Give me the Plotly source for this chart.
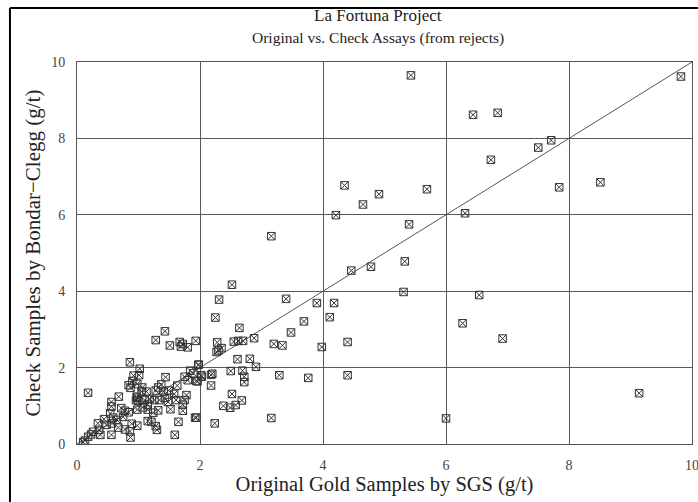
import plotly.graph_objects as go

# Original gold assays by SGS (g/t) and the matching check assays by Bondar-Clegg (g/t)
orig_sgs = [
    5.43, 6.44, 6.84, 6.73, 4.35, 4.91, 5.69, 4.65, 4.21, 6.31, 5.40, 5.33, 4.78, 4.46,
    5.31, 6.54, 4.18, 4.11, 6.27, 6.92, 4.40, 3.98, 4.40, 6.00,
    9.82, 7.71, 7.50, 7.84, 8.51, 9.14,
    3.16, 2.52, 2.31, 3.40, 3.90, 2.25, 3.69, 2.64, 3.48, 2.88, 2.62, 2.55, 2.70, 2.28,
    1.93, 3.20, 3.34, 2.35, 2.27, 2.30, 2.61, 2.81, 2.91, 1.97, 2.02, 2.18, 2.20, 2.50,
    2.69, 2.72, 2.72, 3.29, 3.76, 1.94, 2.18, 2.52, 2.68, 2.38, 2.49, 2.58, 3.16, 1.94,
    2.24,
    1.43, 1.28, 1.51, 1.67, 1.72, 1.80, 1.69, 0.86, 1.02, 1.01, 0.92, 1.98, 0.18, 1.44,
    1.75, 2.03, 1.96, 1.80, 0.84, 0.87, 0.68, 0.56, 0.98, 0.96, 1.00, 1.10, 1.18, 1.26,
    1.34, 1.07, 0.98, 1.15, 1.43, 1.48, 1.58, 1.78, 1.75, 1.52, 1.72, 1.92, 1.65, 1.59,
    1.30, 1.28, 1.21, 1.15, 0.87, 0.86, 0.78, 0.56, 0.57, 0.59, 0.65, 0.75, 0.54, 0.44,
    0.48, 0.36, 0.26, 0.18, 0.13, 0.10, 0.23, 0.56, 0.72, 0.78, 0.34, 1.13, 1.28, 1.41,
    1.49, 1.61, 1.72, 0.84, 0.89, 0.98, 1.15, 1.05, 0.97, 0.90, 0.98, 1.06, 1.32, 1.37,
    1.63, 1.89, 1.84, 1.32, 1.24, 0.67, 0.38,
]
check_bc = [
    9.65, 8.62, 8.67, 7.44, 6.77, 6.54, 6.67, 6.27, 5.99, 6.04, 5.75, 4.78, 4.64, 4.54,
    3.98, 3.90, 3.69, 3.32, 3.16, 2.76, 2.67, 2.54, 1.80, 0.67,
    9.62, 7.95, 7.76, 6.72, 6.85, 1.33,
    5.44, 4.17, 3.78, 3.80, 3.69, 3.31, 3.21, 3.04, 2.92, 2.77, 2.70, 2.68, 2.70, 2.66,
    2.70, 2.62, 2.58, 2.51, 2.41, 2.45, 2.22, 2.23, 2.02, 2.07, 1.80, 1.81, 1.84, 1.91,
    1.92, 1.76, 1.62, 1.80, 1.73, 1.65, 1.53, 1.31, 1.14, 1.00, 0.95, 1.02, 0.68, 0.69,
    0.54,
    2.95, 2.72, 2.58, 2.67, 2.62, 2.53, 2.55, 2.14, 1.97, 1.80, 1.79, 2.08, 1.34, 1.75,
    1.76, 1.76, 1.64, 1.67, 1.54, 1.47, 1.24, 1.10, 1.21, 1.15, 1.13, 1.15, 1.18, 1.15,
    1.15, 0.96, 0.90, 0.90, 1.21, 1.10, 1.31, 1.28, 1.15, 0.91, 0.87, 0.69, 0.58, 0.24,
    0.37, 0.47, 0.58, 0.60, 0.17, 0.33, 0.38, 0.24, 0.54, 0.69, 0.63, 0.71, 0.80, 0.65,
    0.50, 0.37, 0.32, 0.19, 0.09, 0.05, 0.25, 0.98, 0.94, 0.87, 0.54, 1.37, 1.40, 1.37,
    1.40, 1.15, 1.03, 0.83, 0.53, 0.48, 1.03, 1.37, 1.24, 1.65, 1.57, 1.48, 1.48, 1.56,
    1.53, 1.85, 1.92, 0.88, 0.82, 0.43, 0.24,
]

# 1:1 reference line
ref_line = [0, 10]
axis_ticks = [0, 2, 4, 6, 8, 10]

title_lines = ["La Fortuna Project", "Original vs. Check Assays (from rejects)"]

SERIF = "Liberation Serif, Times New Roman, serif"

fig = go.Figure()
fig.add_trace(go.Scatter(
    x=ref_line, y=ref_line, mode="lines",
    line=dict(color="#555555", width=1), hoverinfo="skip", showlegend=False,
))
fig.add_trace(go.Scatter(
    x=orig_sgs, y=check_bc, mode="markers",
    marker=dict(symbol="square-x-open", size=7.5, color="#333333",
                line=dict(width=1, color="#333333")),
    showlegend=False,
))

axis_common = dict(
    range=[0, 10], tickvals=axis_ticks, ticks="",
    showgrid=True, gridcolor="#5a5a5a", gridwidth=1,
    showline=True, linecolor="#555555", linewidth=1, mirror=True,
    zeroline=False, ticklabelstandoff=8, ticklabeloverflow="allow",
    automargin=False,
    tickfont=dict(family=SERIF, size=14, color="#444444"),
)

fig.update_layout(
    width=698, height=502,
    margin=dict(l=77, r=6, t=62, b=58, autoexpand=False),
    paper_bgcolor="white", plot_bgcolor="white",
    xaxis=dict(axis_common, title=dict(
        text="Original Gold Samples by SGS (g/t)", standoff=2,
        font=dict(family=SERIF, size=20.5, color="#222222"))),
    yaxis=dict(axis_common, title=dict(
        text="Check Samples by Bondar\u2212Clegg (g/t)", standoff=4,
        font=dict(family=SERIF, size=21, color="#222222"))),
    annotations=[
        dict(text=title_lines[0], xref="paper", yref="paper",
             x=0.4894, y=1.123, xanchor="center", yanchor="middle", showarrow=False,
             font=dict(family=SERIF, size=17, color="#222222")),
        dict(text=title_lines[1], xref="paper", yref="paper",
             x=0.4894, y=1.0628, xanchor="center", yanchor="middle", showarrow=False,
             font=dict(family=SERIF, size=15.5, color="#222222")),
    ],
    shapes=[
        # frame around the figure (left and top edges)
        dict(type="line", xref="paper", yref="paper",
             x0=-0.109, x1=1.02, y0=1.1414, y1=1.1414,
             line=dict(color="black", width=2)),
        dict(type="line", xref="paper", yref="paper",
             x0=-0.109, x1=-0.109, y0=1.1414, y1=-0.17,
             line=dict(color="black", width=2)),
    ],
)

fig.write_html("out.html")
